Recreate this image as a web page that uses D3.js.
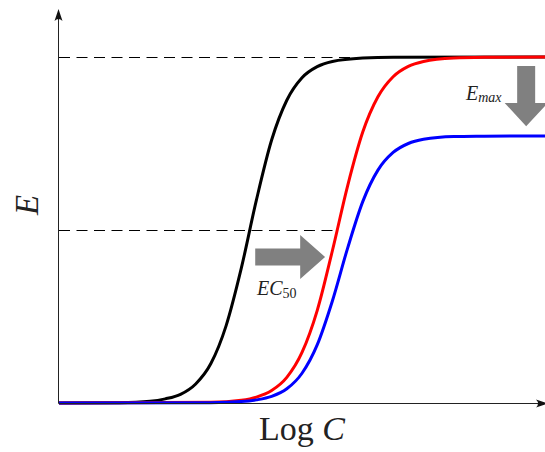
<!DOCTYPE html>
<html>
<head>
<meta charset="utf-8">
<script src="https://cdn.jsdelivr.net/npm/d3@7"></script>
<style>
  body { margin: 0; background: #fff; }
  svg { display: block; }
</style>
</head>
<body>
<div id="chart"></div>
<script>
// curves: log C (0..8) vs effect E (0..1)
const blackLogC = [0, 1.0, 1.5, 1.75, 2.0, 2.25, 2.5, 2.75, 3.0, 3.25, 3.5, 3.75, 4.0, 4.25, 4.5, 5.0, 5.5, 8]
const blackE    = [0, 0.001, 0.005, 0.012, 0.025, 0.055, 0.114, 0.223, 0.389, 0.587, 0.760, 0.875, 0.940, 0.972, 0.987, 0.997, 0.9995, 1]

const redLogC = [0, 2.5, 3.0, 3.25, 3.5, 3.75, 4.0, 4.25, 4.5, 4.75, 5.0, 5.25, 5.5, 5.75, 6.0, 6.5, 7.0, 8]
const redE    = [0, 0.002, 0.008, 0.017, 0.036, 0.074, 0.146, 0.267, 0.440, 0.627, 0.783, 0.885, 0.943, 0.973, 0.987, 0.997, 0.999, 1]

const blueLogC = [0, 2.5, 3.0, 3.25, 3.5, 3.75, 4.0, 4.25, 4.5, 4.75, 5.0, 5.25, 5.5, 5.75, 6.0, 6.5, 7.0, 8]
const blueE    = [0, 0.001, 0.004, 0.009, 0.019, 0.041, 0.086, 0.168, 0.295, 0.447, 0.582, 0.673, 0.724, 0.750, 0.762, 0.770, 0.771, 0.772]

const curveColors = ["black", "red", "blue"]

// reference levels (dashed): full effect and half effect up to red EC50
const refLevels = [1, 0.5]
const refEnds = [8, 4.57]

const width = 545, height = 452

let svg = d3.select('#chart')
    .append('svg')
    .attr('width', width)
    .attr('height', height)

let xScale = d3.scaleLinear()
    .domain([0, 8])
    .range([59, 545])

let yScale = d3.scaleLinear()
    .domain([0, 1])
    .range([403, 57])

// keep 1px lines on the pixel grid
const crisp = v => Math.round(v) + 0.5

let refGroup = svg.append("g")
let curveGroup = svg.append("g")
let arrowGroup = svg.append("g")
let axisGroup = svg.append("g")
let labelGroup = svg.append("g")

// dashed reference lines
refGroup.selectAll("line")
    .data(refLevels)
    .join("line")
    .attr("x1", xScale(0))
    .attr("x2", (d, i) => xScale(refEnds[i]))
    .attr("y1", d => crisp(yScale(d)))
    .attr("y2", d => crisp(yScale(d)))
    .attr("stroke", "#000")
    .attr("stroke-width", 1.1)
    .attr("stroke-dasharray", "11,6.5")

// curves
let series = [
    blackLogC.map((x, i) => [x, blackE[i]]),
    redLogC.map((x, i) => [x, redE[i]]),
    blueLogC.map((x, i) => [x, blueE[i]])
]

let line = d3.line()
    .x(d => xScale(d[0]))
    .y(d => yScale(d[1]))
    .curve(d3.curveMonotoneX)

curveGroup.selectAll("path")
    .data(series)
    .join("path")
    .attr("d", line)
    .attr("fill", "none")
    .attr("stroke", (d, i) => curveColors[i])
    .attr("stroke-width", 3)

// block arrows
const grey = "#808080"
let ecY = yScale(0.422)
let ecX0 = xScale(3.23), ecX1 = xScale(3.97), ecTip = xScale(4.38)
arrowGroup.append("path")
    .attr("d", `M${ecX0},${ecY-8.5} L${ecX1},${ecY-8.5} L${ecX1},${ecY-22} L${ecTip},${ecY} L${ecX1},${ecY+22} L${ecX1},${ecY+8.5} L${ecX0},${ecY+8.5} Z`)
    .attr("fill", grey)

let emX = xScale(7.69)
let emY0 = yScale(0.974), emY1 = yScale(0.867), emTip = yScale(0.80)
arrowGroup.append("path")
    .attr("d", `M${emX-9},${emY0} L${emX+9},${emY0} L${emX+9},${emY1} L${emX+21.5},${emY1} L${emX},${emTip} L${emX-21.5},${emY1} L${emX-9},${emY1} Z`)
    .attr("fill", grey)

// axes with arrow heads
let ax = crisp(xScale(0)) - 1
let ay = crisp(yScale(0))

axisGroup.append("line")
    .attr("x1", ax).attr("x2", ax)
    .attr("y1", ay).attr("y2", 12)
    .attr("stroke", "#222").attr("stroke-width", 1)

axisGroup.append("line")
    .attr("x1", ax).attr("x2", 543)
    .attr("y1", ay).attr("y2", ay)
    .attr("stroke", "#222").attr("stroke-width", 1)

axisGroup.append("path")
    .attr("d", `M${ax},9 L${ax+4},21 Q${ax},17 ${ax-4},21 Z`)
    .attr("fill", "#111")

axisGroup.append("path")
    .attr("d", `M548,${ay} L536,${ay-4} Q540,${ay} 536,${ay+4} Z`)
    .attr("fill", "#111")

// labels
const serif = "'Liberation Serif', 'DejaVu Serif', serif"

let xLab = labelGroup.append("text")
    .attr("x", 259)
    .attr("y", 440)
    .attr("font-family", serif)
    .attr("font-size", 34)
    .attr("fill", "#222")
xLab.append("tspan").text("Log ")
xLab.append("tspan").attr("font-style", "italic").text("C")

labelGroup.append("text")
    .attr("transform", "translate(38,205) rotate(-90)")
    .attr("text-anchor", "middle")
    .attr("font-family", serif)
    .attr("font-style", "italic")
    .attr("font-size", 33)
    .attr("fill", "#222")
    .text("E")

let ecLab = labelGroup.append("text")
    .attr("x", 257)
    .attr("y", 295)
    .attr("font-family", serif)
    .attr("font-size", 20)
    .attr("fill", "#222")
ecLab.append("tspan").attr("font-style", "italic").text("EC")
ecLab.append("tspan").attr("font-size", 14).attr("dy", 3).text("50")

let emLab = labelGroup.append("text")
    .attr("x", 466)
    .attr("y", 100)
    .attr("font-family", serif)
    .attr("font-style", "italic")
    .attr("font-size", 20)
    .attr("fill", "#222")
emLab.append("tspan").text("E")
emLab.append("tspan").attr("font-size", 14).attr("dy", 2).text("max")
</script>
</body>
</html>
